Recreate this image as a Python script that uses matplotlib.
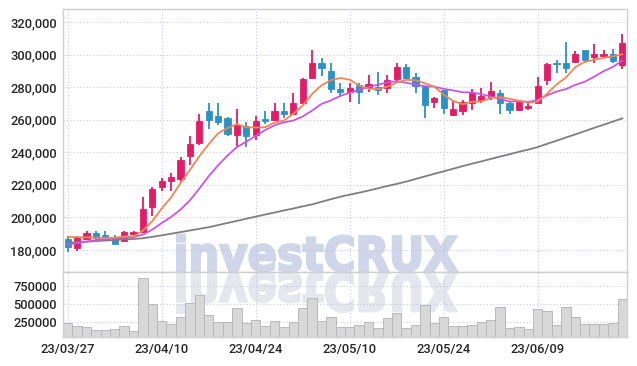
"""Candlestick chart with moving averages and volume panel (investCRUX style)."""

import matplotlib
matplotlib.use("Agg")
import matplotlib.pyplot as plt
import numpy as np
from matplotlib.font_manager import FontProperties
from matplotlib.patches import PathPatch
from matplotlib.textpath import TextPath
from matplotlib.transforms import Affine2D
from matplotlib.ticker import FuncFormatter

W, H, DPI = 637, 366, 100

# ---------------------------------------------------------------------------
# Data (prices in KRW, volume in shares), one entry per trading day
# ---------------------------------------------------------------------------
tick_pos    = [0, 10, 20, 30, 40, 50]
tick_labels = ["23/03/27", "23/04/10", "23/04/24", "23/05/10", "23/05/24", "23/06/09"]

open_ = [186600, 181400, 186600, 190500, 189100, 188000, 185600, 190100, 191300, 206500,
         218500, 222200, 223600, 238000, 245900, 265200, 262100, 260800, 250400, 255900,
         250400, 260600, 259900, 265200, 263400, 270400, 285400, 295100, 290100, 278700,
         276800, 281300, 279800, 279800, 279300, 284800, 292200, 286100, 280900, 271000,
         278200, 262800, 265300, 270400, 272000, 273700, 276600, 270400, 265900, 267200,
         270400, 284400, 295100, 295100, 295600, 302800, 298600, 299200, 300200, 293500]
high  = [188600, 188500, 191700, 191900, 191700, 189300, 191500, 191700, 212700, 218900,
         224000, 227100, 237400, 249800, 263600, 270000, 270000, 261500, 266900, 258600,
         262100, 265200, 270000, 270000, 276700, 285500, 302800, 297800, 295100, 282700,
         282700, 282300, 287400, 289500, 287400, 294700, 294100, 288800, 281000, 274000,
         278500, 271600, 272000, 278700, 279300, 283400, 278200, 271000, 271500, 270200,
         286500, 295000, 296700, 307600, 302200, 303000, 306400, 302800, 303300, 312500]
low   = [178800, 179400, 186000, 186000, 185600, 183500, 185000, 188000, 190500, 201000,
         216400, 216400, 222000, 231900, 244500, 254600, 256500, 249800, 243200, 243200,
         247300, 257600, 259400, 260800, 263000, 270000, 284800, 287000, 276300, 274200,
         271000, 269400, 277200, 275300, 276300, 282900, 285000, 276700, 261300, 267500,
         263700, 262500, 263100, 265800, 270400, 272000, 263700, 263700, 265500, 265900,
         270000, 281300, 288800, 288500, 295100, 294700, 295100, 298100, 294700, 291000]
close = [182000, 188000, 190700, 187600, 188000, 183900, 191100, 191300, 205100, 217500,
         222600, 225100, 235400, 245200, 259300, 260100, 258600, 251500, 257000, 249800,
         259200, 259500, 265400, 263400, 270400, 284900, 295100, 292000, 278900, 277200,
         279600, 277200, 281900, 278200, 284400, 292200, 285800, 280900, 268900, 273500,
         267200, 266900, 271100, 276300, 274500, 277700, 270000, 265900, 270600, 268500,
         280700, 294300, 294100, 292000, 300400, 296700, 300600, 300400, 296200, 307300]
volume = [240000, 194000, 176000, 139000, 139000, 153000, 194000, 125000, 861000, 500000,
          264000, 222000, 319000, 509000, 625000, 347000, 245000, 245000, 440000, 231000,
          273000, 194000, 259000, 176000, 245000, 440000, 579000, 264000, 315000, 176000,
          176000, 208000, 245000, 162000, 301000, 370000, 162000, 208000, 486000, 240000,
          315000, 194000, 194000, 208000, 245000, 278000, 454000, 162000, 176000, 148000,
          426000, 398000, 208000, 454000, 324000, 218000, 218000, 218000, 231000, 565000]

# moving averages
ma_short = [188000, 187900, 187800, 187600, 187300, 187600, 188300, 188400, 191900, 197800,
            205500, 212300, 221100, 229200, 237500, 245000, 251700, 254900, 257300, 255400,
            255200, 255400, 258200, 259500, 263600, 268700, 275800, 281200, 284300, 285600,
            284600, 281000, 279000, 278800, 280300, 282800, 284500, 284300, 282400, 280300,
            275300, 271500, 269500, 271000, 271200, 273300, 273900, 272900, 271700, 270500,
            271100, 276000, 281600, 285900, 292300, 295500, 296800, 298000, 298900, 300200]
ma_mid   = [183300, 184200, 185200, 186000, 186600, 187000, 187500, 188000, 189500, 192500,
            196600, 200300, 204800, 210500, 217700, 225300, 232000, 238000, 243200, 246500,
            250100, 253600, 256600, 258400, 259500, 262000, 265600, 269700, 271900, 274600,
            276600, 278400, 280100, 281500, 282900, 283700, 282700, 281600, 280600, 280300,
            279000, 278000, 276900, 276700, 275700, 274300, 272700, 271200, 271400, 270900,
            272200, 275000, 277300, 278800, 281400, 283300, 286400, 289800, 292400, 296300]
ma_long  = [184500, 184800, 185100, 185500, 185800, 186100, 186500, 186800, 187200, 188100,
            189000, 190000, 191000, 192000, 193000, 194000, 195300, 196600, 197900, 199200,
            200500, 201800, 203000, 204300, 205500, 206800, 208000, 209600, 211200, 212700,
            214000, 215200, 216500, 217900, 219300, 220600, 222000, 223600, 225200, 226800,
            228300, 229900, 231500, 233000, 234400, 235900, 237400, 238800, 240300, 241700,
            243200, 245200, 247100, 249100, 251000, 253000, 255000, 256900, 258900, 260800]

price_ticks  = [180000, 200000, 220000, 240000, 260000, 280000, 300000, 320000]
volume_ticks = [250000, 500000, 750000]

# ---------------------------------------------------------------------------
# Styling
# ---------------------------------------------------------------------------
UP_COLOR    = "#e31c68"
DOWN_COLOR  = "#2c92c6"
GRID_COLOR  = "#c3c8dc"
SPINE_COLOR = "#cfcfcf"
TEXT_COLOR  = "#262626"

fig = plt.figure(figsize=(W / DPI, H / DPI), dpi=DPI)
fig.patch.set_facecolor("white")

ax = fig.add_axes([63 / W, 1 - 272 / H, (627 - 63) / W, (272 - 9) / H])
axv = fig.add_axes([63 / W, 1 - 337 / H, (627 - 63) / W, (337 - 272) / H], sharex=ax)

x = np.arange(len(close))

# candles
for i in x:
    up = close[i] >= open_[i]
    c = UP_COLOR if up else DOWN_COLOR
    ax.vlines(i, low[i], high[i], color=c, linewidth=1.3, zorder=2)
    bottom = min(open_[i], close[i])
    height = max(abs(close[i] - open_[i]), 600)
    ax.bar(i, height, bottom=bottom, width=0.68, color=c, edgecolor=c,
           linewidth=0.6, zorder=3)

ax.plot(x, ma_long, color="#7f7f7f", linewidth=1.3, zorder=4)
ax.plot(x, ma_mid, color="#c855ea", linewidth=1.3, zorder=4)
ax.plot(x, ma_short, color="#ef8753", linewidth=1.3, zorder=5)

axv.bar(x, volume, width=1.0, color="#d8d8d8", edgecolor="#b9b9b9",
        linewidth=0.7, zorder=2)

# axes setup
ax.set_xlim(-0.5, 59.5)
ax.set_ylim(166500, 328000)
axv.set_ylim(42000, 944000)

ax.set_yticks(price_ticks)
ax.yaxis.set_major_formatter(FuncFormatter(lambda v, _: f"{int(v):,}"))
axv.set_yticks(volume_ticks)
axv.yaxis.set_major_formatter(FuncFormatter(lambda v, _: f"{int(v)}"))
axv.set_xticks(tick_pos)
axv.set_xticklabels(tick_labels)

for a in (ax, axv):
    a.set_facecolor("white")
    a.grid(True, color=GRID_COLOR, linestyle=(0, (1, 2)), linewidth=0.8, zorder=0)
    a.set_axisbelow(True)
    a.tick_params(length=0, pad=4.5, colors=TEXT_COLOR)
    for lbl in a.get_yticklabels() + a.get_xticklabels():
        lbl.set_fontfamily("Roboto")
        lbl.set_fontweight("medium")
        lbl.set_fontsize(9.3)
    for s in a.spines.values():
        s.set_color(SPINE_COLOR)
        s.set_linewidth(1.0)
ax.tick_params(labelbottom=False)

# watermark "investCRUX" and its reflection (pixel coordinates), under the grid;
# a stroke of the fill colour makes the bold face look heavier
fp = FontProperties(family="DejaVu Sans", weight="bold")
tp = TextPath((0, 0), "investCRUX", size=100, prop=fp)
bb = tp.get_extents()
stroke = 1.2  # half stroke width in pixels
wx0, wx1, wtop, wbase = 176 + stroke, 458 - stroke, 233 + stroke, 272 - stroke
sx = (wx1 - wx0) / bb.width
sy = (wbase - wtop) / bb.height
tr_main = Affine2D().translate(-bb.x0, 0).scale(sx, sy).translate(wx0, H - wbase)
tr_refl = Affine2D().translate(-bb.x0, 0).scale(sx, -sy * 1.1).translate(wx0, H - 272 - stroke)
ax.add_patch(PathPatch(tp, transform=tr_main, facecolor="#d0d6e9", edgecolor="#d0d6e9",
                       linewidth=stroke * 2 * 72 / DPI, zorder=0.1))
axv.add_patch(PathPatch(tp, transform=tr_refl, facecolor="#e6e6ef", edgecolor="#e6e6ef",
                        linewidth=stroke * 2 * 72 / DPI, zorder=0.1))

fig.savefig("out.png", dpi=DPI, facecolor="white")
plt.close(fig)
